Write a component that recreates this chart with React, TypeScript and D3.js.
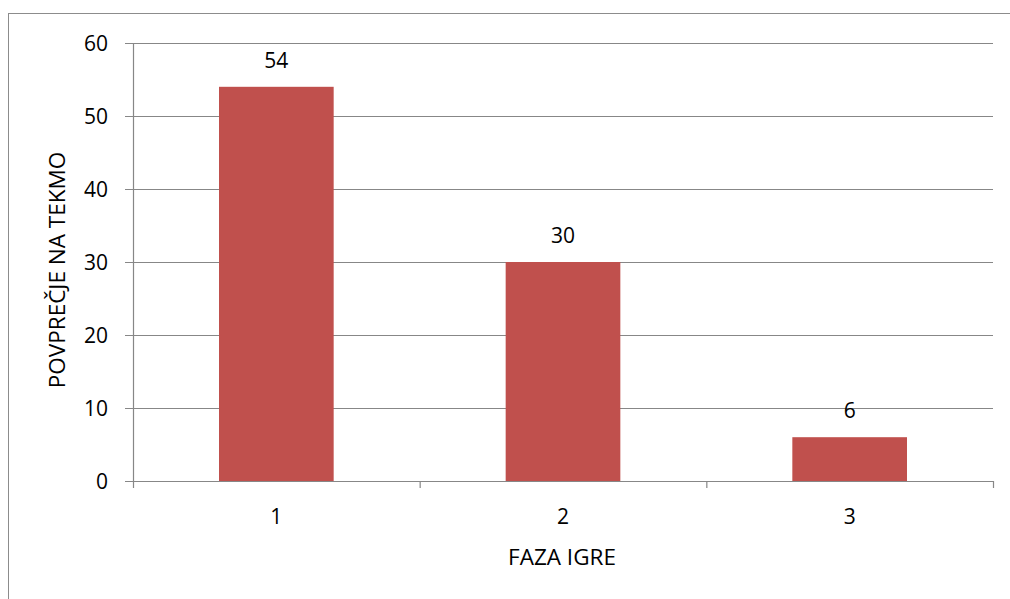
import React from "react";
import * as d3 from "d3";

const categories = ["1", "2", "3"];
const values = [54, 30, 6];
const yTicks = [0, 10, 20, 30, 40, 50, 60];
const yTitle = "POVPREČJE NA TEKMO";
const xTitle = "FAZA IGRE";

export default function App() {
  const W = 1010, H = 599;
  const left = 133, right = 993, top = 43, bottom = 481;
  const x = d3.scaleBand<string>().domain(categories).range([left, right]).paddingInner(0.6).paddingOuter(0.3);
  const xb = d3.scaleBand<string>().domain(categories).range([left, right]);
  const y = d3.scaleLinear().domain([0, 60]).range([bottom, top]);
  const font = "'Open Sans', 'Noto Sans', sans-serif";
  const grid = "#878787";
  return (
    <svg width={W} height={H} style={{ position: "absolute", left: 0, top: 0, display: "block" }} fontFamily={font}>
      <rect x={0} y={0} width={W} height={H} fill="#fff" />
      <rect x={8.5} y={13.5} width={1020} height={620} fill="none" stroke="#8c8c8c" strokeWidth={1} />
      {yTicks.map((t) => (
        <g key={t}>
          <line x1={125} x2={right} y1={y(t) + 0.5} y2={y(t) + 0.5} stroke={grid} strokeWidth={1.2} />
          <text x={108} y={y(t) + 7.5} textAnchor="end" fontSize={21} fill="#000">{t}</text>
        </g>
      ))}
      <line x1={left + 0.5} x2={left + 0.5} y1={top} y2={bottom + 7} stroke={grid} strokeWidth={1.2} />
      {categories.map((c) => (
        <line key={"tk" + c} x1={xb(c)! + xb.bandwidth() + 0.5} x2={xb(c)! + xb.bandwidth() + 0.5} y1={bottom} y2={bottom + 7} stroke={grid} strokeWidth={1.2} />
      ))}
      {categories.map((c, i) => (
        <g key={c}>
          <rect x={x(c)} y={y(values[i])} width={x.bandwidth()} height={bottom - y(values[i])} fill="#C0504D" />
          <text x={x(c)! + x.bandwidth() / 2} y={y(values[i]) - 19} textAnchor="middle" fontSize={21} fill="#000">{values[i]}</text>
          <text x={xb(c)! + xb.bandwidth() / 2} y={524} textAnchor="middle" fontSize={21} fill="#000">{c}</text>
        </g>
      ))}
      <text x={562} y={565} textAnchor="middle" fontSize={22.5} fill="#000">{xTitle}</text>
      <text transform={`translate(65,270) rotate(-90)`} textAnchor="middle" fontSize={22.5} fill="#000">{yTitle}</text>
    </svg>
  );
}
